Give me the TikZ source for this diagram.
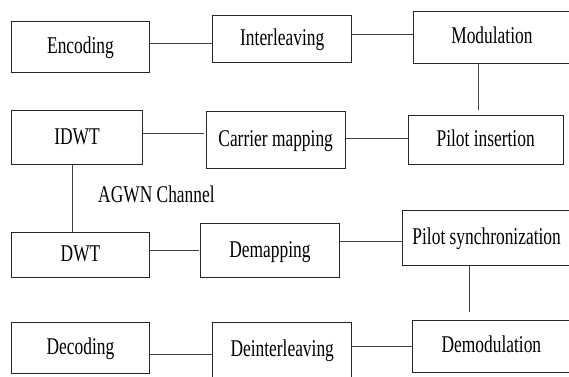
\documentclass[tikz,border=0pt]{standalone}
\usepackage{fontspec}
\setmainfont{Liberation Serif}[FakeStretch=0.725]
\begin{document}
\begin{tikzpicture}[x=1pt,y=-1pt,
  blk/.style={draw=black!85, line width=1pt, rectangle, inner sep=0pt,
    font=\fontsize{24}{28}\selectfont, text height=16pt, text depth=3pt, align=center},
  conn/.style={draw=black!75, line width=1pt}]
\useasboundingbox (0,0) rectangle (569,376);
% row 1
\node[blk, minimum width=138.4pt, minimum height=51pt]   (enc)  at (80.5,46.5)   {Encoding};
\node[blk, minimum width=139pt,   minimum height=47.3pt] (int)  at (282.2,38.65) {Interleaving};
\node[blk, minimum width=157.2pt, minimum height=52.3pt] (mod)  at (491.9,37.15) {Modulation};
% row 2
\node[blk, minimum width=131.4pt, minimum height=54.4pt] (idwt) at (77,137.5)    {IDWT};
\node[blk, minimum width=138.7pt, minimum height=56.6pt] (car)  at (275.65,140)  {Carrier mapping};
\node[blk, minimum width=155.3pt, minimum height=49.3pt] (pil)  at (485.65,139.65) {Pilot insertion};
% channel label
\node[anchor=base west, inner sep=0pt, font=\fontsize{24}{28}\selectfont] (agwn) at (98,202) {AGWN Channel};
% row 3
\node[blk, minimum width=138.4pt, minimum height=45.7pt] (dwt)  at (80.5,254.85) {DWT};
\node[blk, minimum width=138.6pt, minimum height=54pt]   (dem)  at (270,250.7)   {Demapping};
\node[blk, minimum width=168.7pt, minimum height=54.3pt] (ps)   at (486.65,237.85) {Pilot synchronization};
% row 4
\node[blk, minimum width=138.4pt, minimum height=50.6pt] (dec)  at (80.5,348)    {Decoding};
\node[blk, minimum width=139pt,   minimum height=55.3pt] (dei)  at (282.2,350.35) {Deinterleaving};
\node[blk, minimum width=158.2pt, minimum height=52.7pt] (demod) at (491.4,346.35) {Demodulation};
% connectors
\draw[conn] (enc.east |- 0,43.3) -- (int.west |- 0,43.3);
\draw[conn] (int.east |- 0,34.7) -- (mod.west |- 0,34.7);
\draw[conn, shorten >=4.3pt] (mod.south -| 478.7,0) -- (pil.north -| 478.7,0);
\draw[conn, shorten >=2.3pt] (idwt.east |- 0,133) -- (car.west |- 0,133);
\draw[conn] (car.east |- 0,138.7) -- (pil.west |- 0,138.7);
\draw[conn] (idwt.south -| 72.3,0) -- (dwt.north -| 72.3,0);
\draw[conn, shorten >=1.7pt] (dwt.east |- 0,250.5) -- (dem.west |- 0,250.5);
\draw[conn] (dem.east |- 0,241) -- (ps.west |- 0,241);
\draw[conn, shorten >=8pt] (ps.south -| 469.3,0) -- (demod.north -| 469.3,0);
\draw[conn] (dec.east |- 0,354) -- (dei.west |- 0,354);
\draw[conn] (dei.east |- 0,346) -- (demod.west |- 0,346);
\end{tikzpicture}
\end{document}
